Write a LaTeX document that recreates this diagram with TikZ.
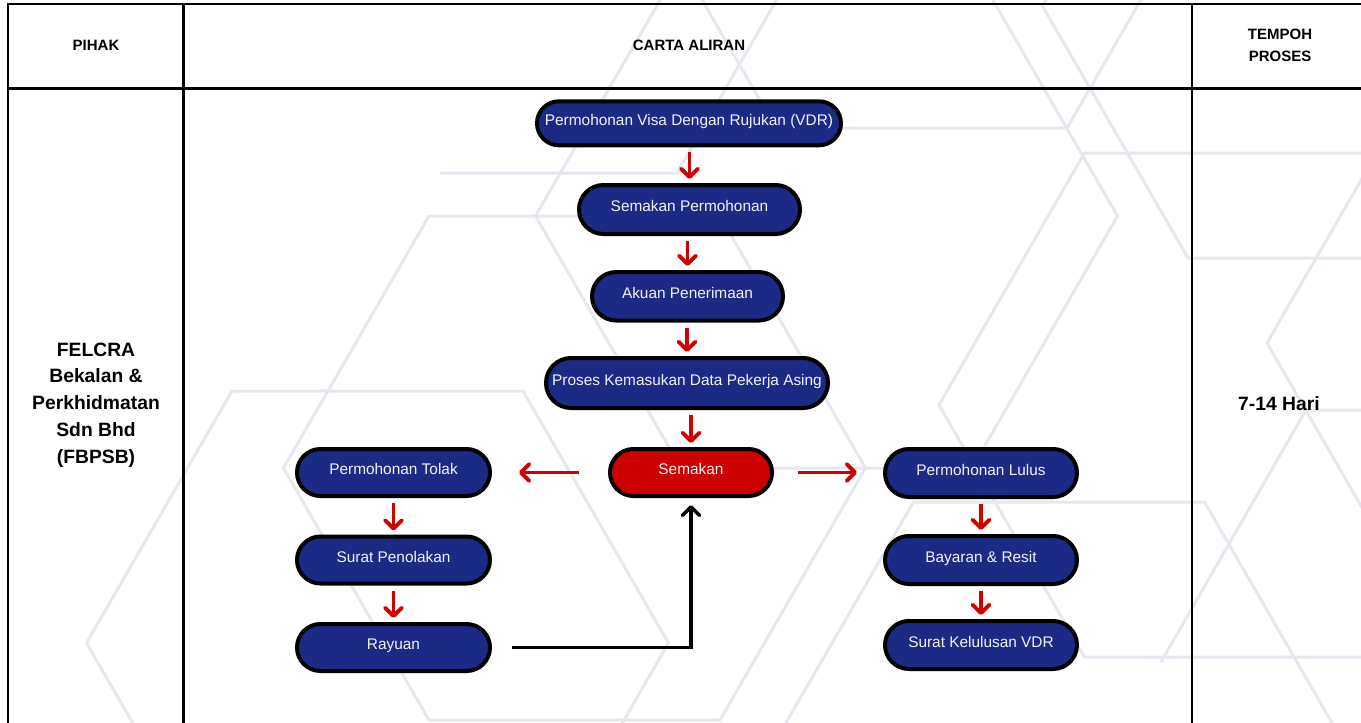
\documentclass[tikz,border=0pt]{standalone}
\usepackage{fontspec}
\setmainfont{Liberation Sans}
\usetikzlibrary{arrows.meta}
\definecolor{boxnavy}{RGB}{27,42,132}
\definecolor{boxred}{RGB}{204,0,0}
\definecolor{arrowred}{RGB}{208,0,0}
\definecolor{hexgrey}{RGB}{231,231,239}
\definecolor{labelwhite}{RGB}{243,243,248}

\begin{document}
\begin{tikzpicture}[x=1pt,y=-1pt,
  hexline/.style={draw=hexgrey, line width=3pt, line join=miter},
  rule/.style={draw=black, line width=2.8pt, line join=miter},
  headtext/.style={font=\fontsize{15}{21.5}\selectfont\bfseries, align=center, inner sep=0pt},
  sidetext/.style={font=\fontsize{19.3}{26.8}\selectfont\bfseries, align=center, inner sep=0pt},
  pill/.style n args={3}{rectangle, draw=black, line width=4pt,
    minimum width=#1pt, minimum height=#2pt, rounded corners=#3pt,
    inner sep=0pt, text=labelwhite, font=\fontsize{15.4}{18}\selectfont,
    text height=9pt, text depth=5pt},
  redarrow/.style={draw=arrowred, line width=3.8pt,
    -{Straight Barb[length=8.5pt, width=17pt, round]}, shorten <=5pt, shorten >=4pt},
  backarrow/.style={draw=black, line width=3.6pt,
    -{Straight Barb[length=8.5pt, width=17pt, round]}},
]
\useasboundingbox (0,0) rectangle (1361,723);

% light hexagon pattern in the background
\begin{scope}
  \clip (0,0) rectangle (1361,723);
  \draw[hexline] (86.5,643) -- (232,391) -- (523,391) -- (668.5,643) -- (523,895) -- (232,895) -- cycle;
  \draw[hexline] (283.5,468) -- (429,216) -- (720,216) -- (865.5,468) -- (720,720) -- (429,720) -- cycle;
  \draw[hexline] (535.5,216) -- (681,-36) -- (972,-36) -- (1117.5,216) -- (972,468) -- (681,468) -- cycle;
  \draw[hexline] (630.5,-124) -- (776,-376) -- (1067,-376) -- (1212.5,-124) -- (1067,128) -- (776,128) -- cycle;
  \draw[hexline] (1042.5,6) -- (1188,-246) -- (1479,-246) -- (1624.5,6) -- (1479,258) -- (1188,258) -- cycle;
  \draw[hexline] (939,405) -- (1084.5,153) -- (1375.5,153) -- (1521,405) -- (1375.5,657) -- (1084.5,657) -- cycle;
  \draw[hexline] (768,754) -- (913.5,502) -- (1204.5,502) -- (1350,754) -- (1204.5,1006) -- (913.5,1006) -- cycle;
  \draw[hexline] (1267,343) -- (1412.5,91) -- (1703.5,91) -- (1849,343) -- (1703.5,595) -- (1412.5,595) -- cycle;
  \draw[hexline] (1161,662) -- (1306,410) -- (1370,410);
  \draw[hexline] (440,173) -- (677,173) -- (795,-32);
\end{scope}

% table rules
\draw[rule] (8,730) -- (8,4) -- (1370,4);
\draw[rule] (8,88.5) -- (1370,88.5);
\draw[rule] (183.3,4) -- (183.3,730);
\draw[rule] (1192,4) -- (1192,730);

% header and side texts
\node[headtext] (hpihak) at (96,45.3) {PIHAK};
\node[headtext] (hcarta) at (689,45.3) {CARTA ALIRAN};
\node[headtext] (htempoh) at (1280,45.3) {TEMPOH\\PROSES};
\node[sidetext] (party) at (96,405) {FELCRA\\Bekalan \&\\Perkhidmatan\\Sdn Bhd\\(FBPSB)};
\node[sidetext] (duration) at (1279,403.5) {7-14 Hari};

% flow steps
\node[pill={304}{44}{22}, fill=boxnavy] (vdr) at (689,123.3) {Permohonan Visa Dengan Rujukan (VDR)};
\node[pill={221}{49}{24.5}, fill=boxnavy] (semper) at (689.5,209.5) {Semakan Permohonan};
\node[pill={191}{48.5}{24.2}, fill=boxnavy] (akuan) at (687.5,296.3) {Akuan Penerimaan};
\node[pill={282}{50}{25}, fill=boxnavy] (proses) at (687,383) {Proses Kemasukan Data Pekerja Asing};
\node[pill={162}{47}{23.5}, fill=boxred] (sem) at (691,472.5) {Semakan};
\node[pill={193}{47}{23.5}, fill=boxnavy] (tolak) at (393.5,472.5) {Permohonan Tolak};
\node[pill={193}{47}{23.5}, fill=boxnavy] (surpen) at (393.5,560) {Surat Penolakan};
\node[pill={193}{47}{23.5}, fill=boxnavy] (rayuan) at (393.5,647.5) {Rayuan};
\node[pill={192}{48}{24}, fill=boxnavy] (lulus) at (981,473) {Permohonan Lulus};
\node[pill={192}{48}{24}, fill=boxnavy] (bayar) at (981,560) {Bayaran \& Resit};
\node[pill={192}{48}{24}, fill=boxnavy] (surkel) at (981,645) {Surat Kelulusan VDR};

% connectors
\draw[redarrow] (semper.north |- vdr.south) -- (semper.north);
\draw[redarrow] (akuan.north |- semper.south) -- (akuan.north);
\draw[redarrow] (proses.north |- akuan.south) -- (proses.north);
\draw[redarrow] (sem.north |- proses.south) -- (sem.north);
\draw[redarrow, shorten <=29pt, shorten >=27pt] (sem.west) -- (tolak.east);
\draw[redarrow, shorten <=24pt, shorten >=26pt] (sem.east) -- (sem.east -| lulus.west);
\draw[redarrow] (tolak) -- (surpen);
\draw[redarrow] (surpen) -- (rayuan);
\draw[redarrow] (lulus) -- (bayar);
\draw[redarrow] (bayar) -- (surkel);
\draw[backarrow, shorten <=20pt, shorten >=7pt] (rayuan.east) -| (sem.south);
\end{tikzpicture}
\end{document}
